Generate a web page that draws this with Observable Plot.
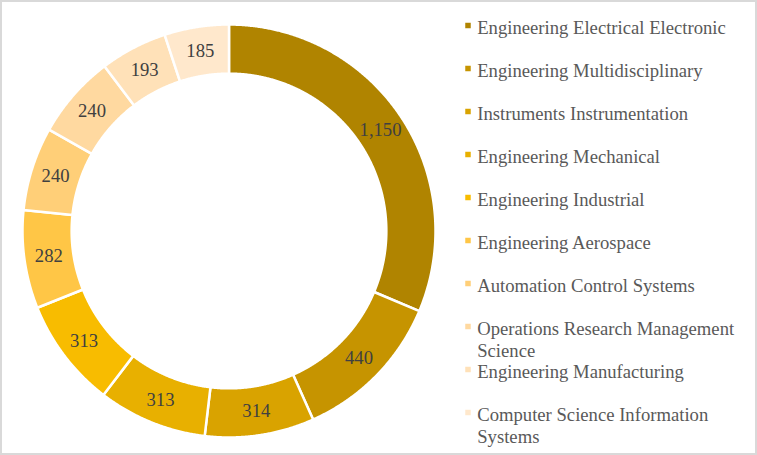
<!DOCTYPE html>
<html><head><meta charset="utf-8">
<script src="https://cdn.jsdelivr.net/npm/d3@7"></script>
<script src="https://cdn.jsdelivr.net/npm/@observablehq/plot@0.6"></script>
<style>
body{margin:0;background:#fff}
#wrap{position:relative;width:757px;height:455px;box-sizing:border-box;border:2px solid #d9d9d9;overflow:hidden;background:#fff}
#donut{position:absolute;left:0;top:0}
#legend{position:absolute;left:440px;top:0}
</style></head><body><div id="wrap"><div id="donut"></div><div id="legend"></div></div>
<script>
const categories = [
  "Engineering Electrical Electronic",
  "Engineering Multidisciplinary",
  "Instruments Instrumentation",
  "Engineering Mechanical",
  "Engineering Industrial",
  "Engineering Aerospace",
  "Automation Control Systems",
  "Operations Research Management Science",
  "Engineering Manufacturing",
  "Computer Science Information Systems"
];
// legend text as wrapped in the reference
const legendLabels = [
  "Engineering Electrical Electronic",
  "Engineering Multidisciplinary",
  "Instruments Instrumentation",
  "Engineering Mechanical",
  "Engineering Industrial",
  "Engineering Aerospace",
  "Automation Control Systems",
  "Operations Research Management\nScience",
  "Engineering Manufacturing",
  "Computer Science Information\nSystems"
];
const counts = [1150, 440, 314, 313, 313, 282, 240, 240, 193, 185];
const colors = ["#b08400", "#c69400", "#d9a300", "#e8b000", "#f8bc00", "#ffc646", "#ffcf78", "#ffd9a0", "#ffe1b8", "#ffe8cc"];

const FONT = "'Liberation Serif','Times New Roman',serif";
const FS = 18.67;
const INNER = 0.762;
const fmt = d3.format(",");

const arcs = d3.pie().sort(null)(counts).map((a, i) => ({...a, cat: categories[i], mid: (a.startAngle + a.endAngle) / 2}));

// polygon outline of each ring slice, computed from the pie angles
const pts = [];
for (const a of arcs) {
  const n = Math.max(4, Math.ceil((a.endAngle - a.startAngle) / 0.005));
  for (let k = 0; k <= n; k++) {
    const t = a.startAngle + (a.endAngle - a.startAngle) * k / n;
    pts.push({cat: a.cat, x: Math.sin(t), y: Math.cos(t)});
  }
  for (let k = n; k >= 0; k--) {
    const t = a.startAngle + (a.endAngle - a.startAngle) * k / n;
    pts.push({cat: a.cat, x: INNER * Math.sin(t), y: INNER * Math.cos(t)});
  }
}

const cx = 226.5, cy = 228.5, R = 206.5;
const donut = Plot.plot({
  width: 456, height: 451, margin: 0,
  style: {fontFamily: FONT, background: "transparent"},
  x: {domain: [-1, 1], range: [cx - R, cx + R], axis: null},
  y: {domain: [-1, 1], range: [cy + R, cy - R], axis: null},
  color: {domain: categories, range: colors},
  marks: [
    Plot.line(pts, {x: "x", y: "y", z: "cat", fill: "cat", stroke: "white", strokeWidth: 2.5, curve: "linear-closed"}),
    Plot.text(arcs, {
      x: d => Math.sin(d.mid) * (1 + INNER) / 2,
      y: d => Math.cos(d.mid) * (1 + INNER) / 2,
      text: d => fmt(d.data),
      fill: "#404040", fontSize: FS, fontFamily: FONT
    })
  ]
});
document.getElementById("donut").append(donut);

const rows = categories.map((c, i) => ({cat: c, label: legendLabels[i]}));
const legend = Plot.plot({
  width: 313, height: 451, margin: 0,
  style: {fontFamily: FONT, background: "transparent"},
  y: {type: "point", domain: categories, range: [22.7, 410], padding: 0, axis: null},
  color: {domain: categories, range: colors},
  marks: [
    Plot.dot(rows, {y: "cat", fill: "cat", symbol: "square", r: 3.1, frameAnchor: "left", dx: 25.5}),
    Plot.text(rows, {
      y: "cat", text: "label", frameAnchor: "left", dx: 34.7, dy: -7,
      textAnchor: "start", lineAnchor: "top", lineHeight: 1.16,
      fill: "#595959", fontSize: FS, fontFamily: FONT
    })
  ]
});
document.getElementById("legend").append(legend);
</script>
</body></html>
